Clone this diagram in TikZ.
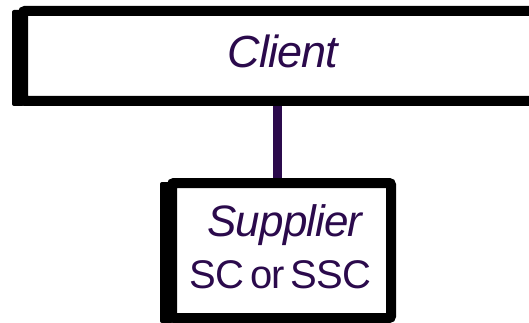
\documentclass[tikz,border=0pt]{standalone}
\usepackage{fontspec}
\setmainfont{Liberation Sans}
\newfontfamily\tightsans[LetterSpace=-2, WordSpace=0.55]{Liberation Sans}
\definecolor{inkpurple}{HTML}{2B0A4C}
\tikzset{
  x=1pt, y=-1pt,
  frame/.style={draw=black, line width=10pt, rounded corners=2pt, inner sep=0pt},
  label/.style={text=inkpurple, inner sep=0pt, anchor=base},
  link/.style={draw=inkpurple, line width=9pt},
}
\begin{document}
\begin{tikzpicture}
\useasboundingbox (0,0) rectangle (529,323);
% left-hand shadow strips of the two frames
\fill[black, rounded corners=2pt] (12,10) rectangle (24,106);
\fill[black, rounded corners=2pt] (160,182) rectangle (173,323);
% client frame
\node[frame, minimum width=520pt, minimum height=90pt] (client) at (283,56) {};
\node[label, font=\tightsans\fontsize{45}{50}\selectfont\itshape] (clienttext) at (283,68) {Client};
% supplier frame
\node[frame, minimum width=219pt, minimum height=135pt] (supplier) at (281.5,250.5) {};
\node[label, font=\tightsans\fontsize{44}{50}\selectfont\itshape] (suppliertext) at (285,236) {Supplier};
\node[label, font=\tightsans\fontsize{40}{46}\selectfont] (kindtext) at (280.5,288) {SC or SSC};
% connector
\coordinate (lx) at (277,0);
\draw[link] (client.south -| lx) -- (supplier.north -| lx);
\end{tikzpicture}
\end{document}
